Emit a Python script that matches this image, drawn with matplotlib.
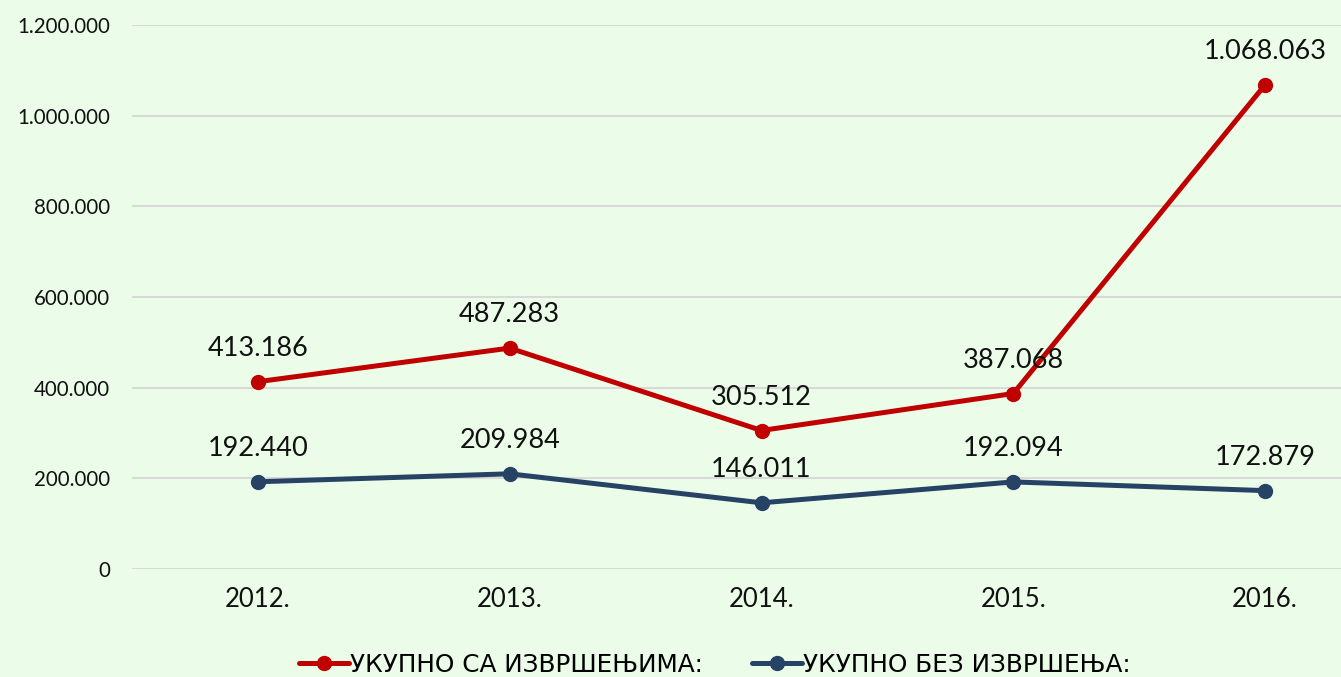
import matplotlib.pyplot as plt
from matplotlib.ticker import FuncFormatter

years = ["2012.", "2013.", "2014.", "2015.", "2016."]
sa_izvrsenjima = [413186, 487283, 305512, 387068, 1068063]
bez_izvrsenja = [192440, 209984, 146011, 192094, 172879]
series_names = ["УКУПНО СА ИЗВРШЕЊИМА:", "УКУПНО БЕЗ ИЗВРШЕЊА:"]

BG = "#EBFDE9"
RED = "#C00000"
NAVY = "#264264"

plt.rcParams["font.family"] = ["Lato", "DejaVu Sans"]


def dots(v, _pos=None):
    return f"{int(v):,}".replace(",", ".")


W, H = 1341, 677
fig = plt.figure(figsize=(W / 100, H / 100), dpi=100, facecolor=BG)
left, right = 132 / W, 1391 / W
bottom, top = (H - 569) / H, (H - 25) / H
ax = fig.add_axes([left, bottom, right - left, top - bottom], facecolor=BG)

x = list(range(len(years)))
for vals, col, name in [(sa_izvrsenjima, RED, series_names[0]),
                        (bez_izvrsenja, NAVY, series_names[1])]:
    ax.plot(x, vals, color=col, lw=3.6, marker="o", ms=10, label=name,
            solid_capstyle="round", zorder=3)
    for xi, v in zip(x, vals):
        ax.annotate(dots(v), (xi, v), xytext=(0, 24), textcoords="offset points",
                    ha="center", va="center", fontsize=19.5, color="#111111")

ax.set_xlim(-0.5, 4.5)
ax.set_ylim(0, 1200000)
ax.set_yticks(range(0, 1200001, 200000))
ax.yaxis.set_major_formatter(FuncFormatter(dots))
ax.set_xticks(x)
ax.set_xticklabels(years)
ax.tick_params(axis="x", length=0, pad=13, labelsize=18.5, colors="#111111")
ax.tick_params(axis="y", length=0, pad=16, labelsize=14.8, colors="#111111")
ax.grid(axis="y", color="#D9D9D9", lw=1.5)
ax.set_axisbelow(True)
for s in ax.spines.values():
    s.set_visible(False)

handles, labels = ax.get_legend_handles_labels()
leg = fig.legend(handles, labels, loc="center", bbox_to_anchor=(0.533, 0.018),
                 ncol=2, frameon=False, handlelength=2.0, handletextpad=0.05,
                 columnspacing=2.0,
                 prop={"family": "DejaVu Sans", "size": 17.8})

fig.savefig("out.png", dpi=100, facecolor=BG)
